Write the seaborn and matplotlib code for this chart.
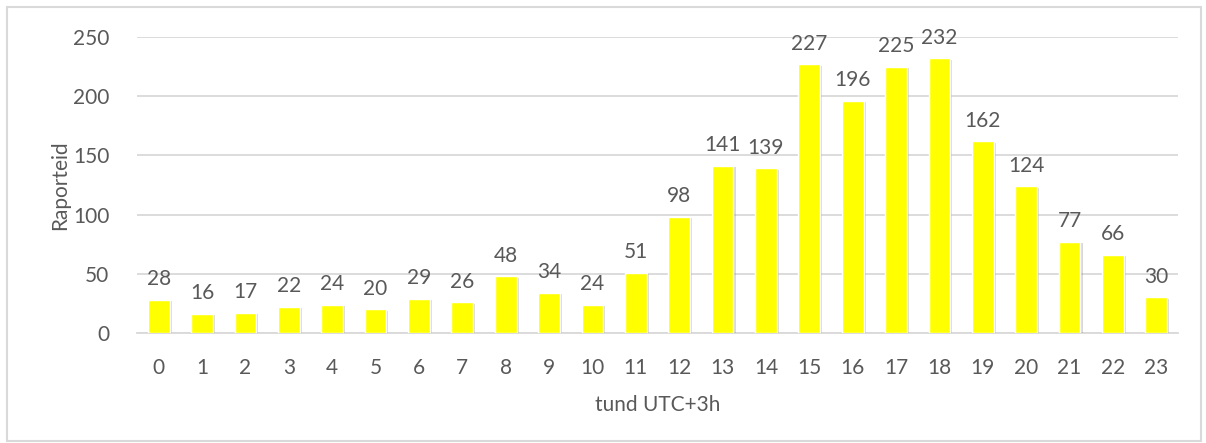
import numpy as np
import pandas as pd
import matplotlib
matplotlib.use('Agg')
import matplotlib.pyplot as plt
import matplotlib.patheffects as pe
from matplotlib.patches import Rectangle
import seaborn as sns

hours = [str(h) for h in range(24)]
reports = [28, 16, 17, 22, 24, 20, 29, 26, 48, 34, 24, 51,
           98, 141, 139, 227, 196, 225, 232, 162, 124, 77, 66, 30]

sns.set_style('white')
plt.rcParams['font.family'] = ['Lato', 'DejaVu Sans']
text_color = '#595959'
fs = 15

df = pd.DataFrame({'tund': hours, 'raporteid': reports})

fig = plt.figure(figsize=(12.06, 4.43), dpi=100)
ax = fig.add_axes([0.1136, 0.2483, 0.8632, 0.6682])

sns.barplot(data=df, x='tund', y='raporteid', color='#FFFF00', saturation=1,
            width=0.5, ax=ax, zorder=3)
for bar in ax.patches:
    bar.set_path_effects([pe.SimplePatchShadow(offset=(1.5, -1.0), shadow_rgbFace='#808080', alpha=0.3),
                          pe.Normal()])

for bar, v in zip(ax.patches, reports):
    ax.text(bar.get_x() + bar.get_width() / 2, v + 9, str(v), ha='center', va='bottom',
            fontsize=fs, color=text_color)

ax.set_ylim(0, 250)
ax.set_xlim(-0.5, 23.5)
ax.set_yticks([0, 50, 100, 150, 200, 250])
ax.yaxis.grid(True, color='#D9D9D9', linewidth=1.3, zorder=0)
ax.set_axisbelow(True)
for s in ['top', 'right', 'left']:
    ax.spines[s].set_visible(False)
ax.spines['bottom'].set_color('#D9D9D9')
ax.spines['bottom'].set_linewidth(1.3)
ax.tick_params(axis='both', length=0, labelsize=fs, labelcolor=text_color)
ax.tick_params(axis='y', pad=20)
ax.tick_params(axis='x', pad=18)
ax.set_xlabel('tund UTC+3h', fontsize=fs, color=text_color, labelpad=12)
ax.set_ylabel('Raporteid', fontsize=fs, color=text_color, labelpad=2)

fig.patches.append(Rectangle((0.006, 0.005), 0.99, 0.98, transform=fig.transFigure,
                             fill=False, edgecolor='#D9D9D9', linewidth=1.5))

fig.savefig('out.png', dpi=100)
